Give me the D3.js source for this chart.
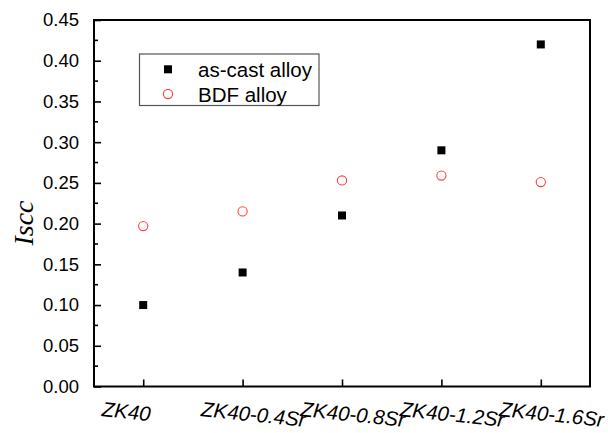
<!DOCTYPE html>
<html><head><meta charset="utf-8">
<script src="https://cdn.jsdelivr.net/npm/d3@7"></script>
<style>body{margin:0;background:#fff}svg{display:block}</style>
</head><body>
<svg id="c" width="608" height="433"></svg>
<script>
const categories = ["ZK40","ZK40-0.4Sr","ZK40-0.8Sr","ZK40-1.2Sr","ZK40-1.6Sr"];
const asCast = [0.10, 0.14, 0.21, 0.29, 0.42];
const bdf = [0.197, 0.215, 0.253, 0.259, 0.251];
const yTicks = [0.00,0.05,0.10,0.15,0.20,0.25,0.30,0.35,0.40,0.45];
const seriesNames = ["as-cast alloy","BDF alloy"];

const svg = d3.select("#c");
const L=94, R=590, T=20, B=386.5;
const x = d3.scaleLinear().domain([-0.495,4.495]).range([L,R]);
const y = d3.scaleLinear().domain([0,0.45]).range([B,T]);

// y axis (ticks inward)
const yAxis = d3.axisLeft(y).tickValues(yTicks).tickFormat(d3.format(".2f")).tickSize(-7).tickPadding(15);
const gy = svg.append("g").attr("transform",`translate(${L},0)`).call(yAxis);
gy.selectAll("text").attr("font-family","Arial, 'Liberation Sans', sans-serif").attr("font-size",18.5).attr("fill","#000");
gy.selectAll("line").attr("stroke","#000").attr("stroke-width",1.6);
gy.select(".domain").remove();
// minor
const minor = d3.range(0,9).map(i=>0.025+i*0.05);
svg.append("g").selectAll("line").data(minor).join("line")
  .attr("x1",L).attr("x2",L+4).attr("y1",d=>y(d)).attr("y2",d=>y(d))
  .attr("stroke","#000").attr("stroke-width",1.6);

// x axis ticks
const xAxis = d3.axisBottom(x).tickValues(d3.range(categories.length)).tickSize(-7).tickFormat("");
const gx = svg.append("g").attr("transform",`translate(0,${B})`).call(xAxis);
gx.selectAll("line").attr("stroke","#000").attr("stroke-width",1.6);
gx.select(".domain").remove();
svg.append("g").selectAll("text").data(categories).join("text")
  .attr("transform",(d,i)=>`translate(${x(i)-42},${416}) rotate(6)`)
  .attr("font-family","Arial, 'Liberation Sans', sans-serif").attr("font-style","italic")
  .attr("font-size",20.5).attr("fill","#000").text(d=>d);

// frame
svg.append("rect").attr("x",L).attr("y",T).attr("width",R-L).attr("height",B-T)
  .attr("fill","none").attr("stroke","#000").attr("stroke-width",2);

// y label
svg.append("text").attr("transform",`translate(33,223) rotate(-90)`).attr("text-anchor","middle")
  .attr("font-family","'Liberation Serif','Times New Roman',serif").attr("font-style","italic")
  .attr("font-size",28).attr("fill","#000").text("Iscc");

// data
svg.append("g").selectAll("rect").data(asCast).join("rect")
  .attr("x",(d,i)=>x(i)-4).attr("y",d=>y(d)-4).attr("width",8).attr("height",8).attr("fill","#000");
svg.append("g").selectAll("circle").data(bdf).join("circle")
  .attr("cx",(d,i)=>x(i)).attr("cy",d=>y(d)).attr("r",4.6)
  .attr("fill","none").attr("stroke","#ff4040").attr("stroke-width",1.1);

// legend
const lg = svg.append("g");
lg.append("rect").attr("x",139.5).attr("y",54).attr("width",179.5).attr("height",51.5)
  .attr("fill","#fff").attr("stroke","#555").attr("stroke-width",1.2);
lg.append("rect").attr("x",164).attr("y",65.3).attr("width",8).attr("height",8).attr("fill","#000");
lg.append("circle").attr("cx",168).attr("cy",94).attr("r",4.6).attr("fill","none").attr("stroke","#ff4040").attr("stroke-width",1.1);
lg.selectAll("text").data(seriesNames).join("text")
  .attr("x",198).attr("y",(d,i)=>69.5+i*25).attr("dy","0.35em")
  .attr("font-family","Arial, 'Liberation Sans', sans-serif").attr("font-size",20.5).attr("fill","#000").text(d=>d);
</script>
</body></html>
